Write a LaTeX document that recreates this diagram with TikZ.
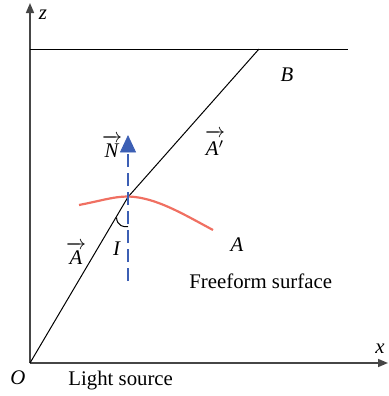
\documentclass[tikz,border=0pt]{standalone}
\usepackage{fontspec}
\setmainfont{Liberation Serif}
\usetikzlibrary{arrows.meta}
\definecolor{axisgray}{RGB}{70,70,70}
\definecolor{nblue}{RGB}{60,95,180}
\definecolor{sred}{RGB}{240,112,98}
\newcommand{\vecl}[2][8.6pt]{$\overrightarrow{\rule{0pt}{#1}\hbox{\textit{#2}}}$}
\begin{document}
\begin{tikzpicture}[x=0.5pt,y=-0.5pt,
  lbl/.style={inner sep=0pt,font=\fontsize{10.4}{12}\selectfont},
  axis/.style={draw=axisgray,line width=0.8pt,-{Triangle[length=5pt,width=4pt]}},
  ray/.style={draw=black,line width=0.5pt}]
\useasboundingbox (0,0) rectangle (389,396);
\coordinate (O) at (30,363);
\coordinate (ztip) at (30,3);
\coordinate (xtip) at (388,363);
\coordinate (Lt) at (30,49);
\coordinate (Rt) at (348,49);
\coordinate (P) at (128,197);
\coordinate (B) at (259,49);
\coordinate (nbot) at (128,281);
\coordinate (ntip) at (128,136);
\draw[axis] (O) -- (ztip);
\draw[axis] (O) -- (xtip);
\draw[ray] (Lt) -- (Rt);
\draw[ray] (O) -- (P) -- (B);
\draw[sred,line width=1.1pt] (79,205) .. controls (105,200) and (118,195) .. (135,197) .. controls (160,200) and (185,215) .. (213,230);
\draw[nblue,line width=1.3pt,dash pattern=on 6.5pt off 3pt] (nbot) -- (128,150);
\draw[nblue,fill=nblue] (ntip) -- (135.5,152) -- (120.5,152) -- cycle;
\draw[ray] (116.5,217.5) .. controls (117,226) and (124,227.5) .. (128,226.5);
\node[lbl] (zl) at (43,15) {\textit{z}};
\node[lbl] (xl) at (380,349) {\textit{x}};
\node[lbl] (Ol) at (18,378) {\textit{O}};
\node[lbl] (Bl) at (287,75) {\textit{B}};
\node[lbl] (Nl) at (112,146) {\vecl{N}};
\node[lbl] (Apl) at (215,143) {\vecl[10pt]{A$'$}};
\node[lbl] (Al) at (76,253) {\vecl{A}};
\node[lbl] (Il) at (117,249) {\textit{I}};
\node[lbl] (A2) at (237,245) {\textit{A}};
\node[lbl,anchor=west] (ff) at (189,281) {Freeform surface};
\node[lbl,anchor=west] (ls) at (68,381) {Light source};
\end{tikzpicture}
\end{document}
